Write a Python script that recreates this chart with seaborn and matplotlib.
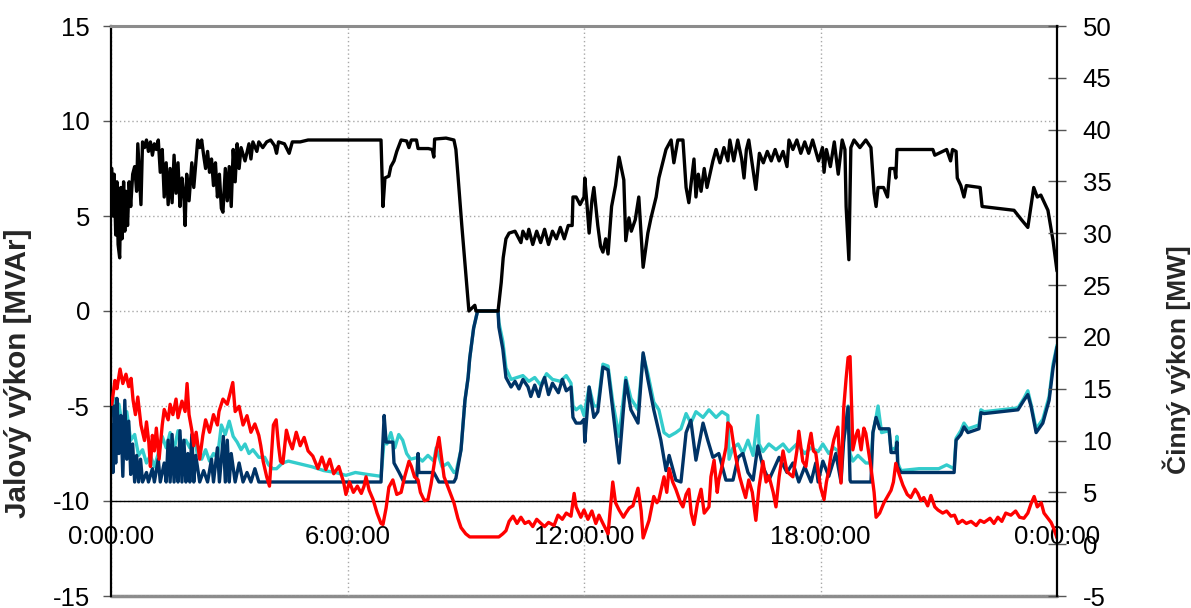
import matplotlib
matplotlib.use("Agg")
import matplotlib.pyplot as plt
import seaborn as sns
import pandas as pd

# ---------------- data (hours, values) ----------------
black_t = [0.02, 0.05, 0.08, 0.12, 0.15, 0.18, 0.22, 0.25, 0.28, 0.32, 0.35, 0.38, 0.42, 0.46, 0.50, 0.55,
           0.60, 0.65, 0.68, 0.76, 0.80, 0.85, 0.90, 0.95, 1.00, 1.05, 1.10, 1.15, 1.20, 1.25, 1.30, 1.35,
           1.40, 1.45, 1.50, 1.55, 1.60, 1.65, 1.70, 1.75, 1.80, 1.85, 1.88, 1.92, 1.98, 2.05, 2.10, 2.16,
           2.20, 2.25, 2.30, 2.35, 2.40, 2.45, 2.50, 2.55, 2.60, 2.65, 2.70, 2.75, 2.80, 2.84, 2.90, 2.95,
           3.00, 3.05, 3.10, 3.15, 3.20, 3.25, 3.30, 3.40, 3.50, 3.55, 3.60, 3.70, 3.75, 3.85, 3.95, 4.05,
           4.15, 4.20, 4.25, 4.40, 4.52, 4.60, 4.80, 5.00, 6.85, 6.90, 6.95, 7.05, 7.10, 7.18, 7.25, 7.36,
           7.50, 7.56, 7.62, 7.75, 7.79, 7.85, 8.05, 8.15, 8.19, 8.21, 8.50, 8.70, 8.75, 8.80, 8.90, 9.00,
           9.08, 9.23, 9.26, 9.82, 9.90, 9.95, 10.02, 10.10, 10.25, 10.40, 10.45, 10.55, 10.60, 10.70, 10.80,
           10.90, 11.00, 11.10, 11.20, 11.30, 11.40, 11.50, 11.60, 11.70, 11.72, 11.80, 11.90, 12.00, 12.02,
           12.08, 12.13, 12.20, 12.25, 12.35, 12.42, 12.48, 12.55, 12.61, 12.70, 12.80, 12.89, 12.95, 13.01,
           13.06, 13.14, 13.20, 13.30, 13.39, 13.50, 13.62, 13.70, 13.83, 13.90, 14.08, 14.21, 14.28, 14.38,
           14.51, 14.59, 14.66, 14.79, 14.84, 14.90, 14.97, 15.05, 15.12, 15.27, 15.35, 15.45, 15.55, 15.65,
           15.70, 15.80, 15.90, 16.00, 16.06, 16.12, 16.18, 16.25, 16.36, 16.45, 16.55, 16.65, 16.75, 16.85,
           16.95, 17.05, 17.15, 17.20, 17.30, 17.40, 17.50, 17.60, 17.70, 17.80, 17.95, 18.05, 18.09, 18.15,
           18.25, 18.35, 18.45, 18.55, 18.62, 18.65, 18.72, 18.77, 18.85, 19.00, 19.15, 19.28, 19.36, 19.41,
           19.46, 19.60, 19.70, 19.76, 19.88, 19.91, 19.94, 20.50, 20.85, 20.90, 21.20, 21.30, 21.35, 21.44,
           21.47, 21.56, 21.64, 21.70, 22.05, 22.10, 22.50, 22.91, 23.10, 23.26, 23.41, 23.50, 23.59, 23.77,
           23.90, 24.00]
black_v = [7.5, 5.0, 7.2, 4.0, 6.8, 3.5, 2.8, 6.5, 3.8, 6.8, 4.2, 6.3, 4.5, 6.8, 5.5, 7.2,
           7.6, 6.3, 8.8, 5.6, 8.9, 8.6, 9.0, 8.4, 8.9, 8.2, 8.8, 8.5, 9.0, 7.3, 8.5, 6.0,
           7.8, 5.6, 7.5, 5.7, 8.2, 6.2, 7.8, 5.5, 7.0, 6.0, 4.5, 7.2, 5.8, 7.8, 6.5, 8.0,
           9.0, 8.6, 9.0, 8.2, 7.5, 8.4, 7.3, 8.0, 6.6, 7.8, 6.0, 7.2, 5.4, 5.2, 7.5, 5.8,
           7.6, 5.5, 8.5, 6.8, 8.8, 7.5, 8.6, 7.9, 8.8, 8.0, 8.9, 8.4, 8.9, 8.6, 8.9, 9.0,
           8.7, 8.3, 8.9, 8.8, 8.3, 8.9, 8.9, 9.0, 9.0, 5.5, 7.0, 7.1, 7.6, 7.9, 8.4, 9.0,
           8.95, 8.6, 9.0, 9.0, 8.55, 8.55, 8.55, 8.5, 8.1, 9.05, 9.1, 9.0, 8.5, 7.2, 4.5, 2.0,
           0.0, 0.3, 0.0, 0.0, 1.5, 2.8, 3.8, 4.1, 4.2, 3.6, 4.2, 3.8, 4.3, 3.5, 4.2,
           3.6, 4.3, 3.5, 4.2, 3.8, 4.4, 3.8, 4.5, 4.5, 6.0, 6.0, 5.6, 6.0, 7.0,
           5.5, 4.1, 5.8, 6.5, 4.5, 3.4, 3.1, 3.8, 3.0, 5.5, 6.6, 8.1, 7.5, 6.9,
           3.7, 4.9, 4.2, 4.8, 6.0, 2.3, 4.1, 4.9, 6.0, 7.0, 8.5, 9.0, 7.8, 9.0,
           9.0, 6.5, 5.7, 8.0, 6.0, 7.2, 6.3, 7.5, 6.5, 7.9, 8.5, 7.8, 8.6, 7.9,
           9.0, 7.9, 9.0, 8.0, 7.0, 8.5, 9.0, 8.0, 6.4, 8.3, 7.8, 8.4, 7.9, 8.5,
           7.9, 8.4, 7.6, 9.0, 8.5, 9.0, 8.3, 8.9, 8.3, 9.0, 7.9, 8.6, 7.3, 8.5,
           7.6, 8.9, 7.2, 9.0, 8.5, 5.5, 2.7, 8.6, 9.0, 8.6, 9.0, 8.6, 6.2, 5.5,
           6.5, 6.5, 6.0, 7.5, 7.5, 7.0, 8.5, 8.5, 8.5, 8.2, 8.5, 7.9, 8.5, 8.4,
           7.0, 6.6, 6.0, 6.6, 6.5, 5.5, 5.4, 5.3, 4.8, 4.4, 6.5, 6.0, 6.1, 5.3,
           3.7, 2.1]

blue_t = [0.02, 0.05, 0.08, 0.12, 0.15, 0.20, 0.25, 0.30, 0.35, 0.40, 0.45, 0.50, 0.55, 0.60, 0.65, 0.70,
          0.75, 0.80, 0.90, 0.95, 1.05, 1.10, 1.20, 1.25, 1.35, 1.40, 1.45, 1.50, 1.55, 1.60, 1.65, 1.70,
          1.75, 1.80, 1.85, 1.90, 1.95, 2.00, 2.05, 2.10, 2.15, 2.25, 2.35, 2.45, 2.55, 2.60, 2.70, 2.75,
          2.85, 2.90, 2.95, 3.00, 3.05, 3.15, 3.25, 3.35, 3.45, 3.55, 3.65, 3.75, 6.85, 6.93, 6.98, 7.15,
          7.18, 7.31, 7.43, 7.75, 7.79, 7.81, 8.19, 8.32, 8.70, 8.75, 8.88, 8.98, 9.06, 9.10, 9.20, 9.30,
          9.82, 9.84, 9.94, 10.02, 10.15, 10.25, 10.35, 10.45, 10.58, 10.65, 10.75, 10.85, 10.91, 11.00,
          11.10, 11.20, 11.35, 11.45, 11.55, 11.67, 11.72, 11.80, 11.92, 12.00, 12.02, 12.13, 12.25, 12.35,
          12.48, 12.61, 12.73, 12.89, 13.06, 13.19, 13.37, 13.50, 13.62, 13.77, 13.95, 14.08, 14.16, 14.33,
          14.46, 14.59, 14.71, 14.84, 15.02, 15.14, 15.27, 15.42, 15.60, 15.78, 15.91, 16.03, 16.16, 16.29,
          16.41, 16.54, 16.69, 16.95, 17.15, 17.30, 17.45, 17.60, 17.76, 17.88, 17.94, 18.06, 18.21, 18.39,
          18.52, 18.59, 18.70, 18.75, 18.77, 19.28, 19.33, 19.41, 19.50, 19.74, 19.79, 19.91, 19.94, 19.96,
          20.04, 21.39, 21.44, 21.56, 21.64, 21.74, 22.02, 22.07, 22.15, 23.01, 23.16, 23.26, 23.34, 23.47,
          23.64, 23.80, 23.90, 24.00]
blue_v = [-6.0, -8.5, -5.0, -8.0, -4.6, -7.5, -5.5, -8.7, -4.7, -7.8, -5.8, -8.6, -7.0, -9.0, -7.6, -9.0,
          -7.8, -9.0, -8.5, -9.0, -8.3, -9.0, -7.8, -9.0, -8.0, -9.0, -6.8, -9.0, -6.5, -9.0, -7.2, -9.0,
          -6.3, -9.0, -6.8, -9.0, -7.5, -9.0, -6.5, -9.0, -7.6, -9.0, -8.4, -9.0, -7.8, -9.0, -7.2, -9.0,
          -6.6, -9.0, -6.8, -9.0, -7.5, -9.0, -8.0, -9.0, -8.5, -9.0, -8.3, -9.0, -9.0, -5.5, -6.9, -6.9,
          -8.0, -8.5, -9.0, -9.0, -7.5, -8.5, -8.5, -9.0, -9.0, -8.8, -7.3, -4.7, -3.5, -2.5, -0.9, 0.0,
          0.0, -0.85, -2.0, -3.5, -4.0, -3.7, -4.1, -3.6, -4.0, -4.5, -3.9, -4.5, -4.0, -3.5,
          -4.4, -3.8, -4.3, -3.6, -4.2, -4.0, -5.6, -5.9, -5.9, -5.7, -6.9, -4.0, -5.6, -5.3,
          -2.95, -3.1, -5.2, -8.0, -3.65, -5.2, -5.9, -2.2, -3.6, -5.2, -6.8, -8.4, -7.6, -8.9,
          -9.0, -6.4, -5.75, -7.85, -5.9, -6.8, -7.7, -7.5, -8.9, -8.9, -7.7, -7.5, -8.5, -8.9,
          -7.1, -8.2, -8.9, -7.7, -8.5, -8.0, -9.0, -8.2, -9.0, -8.0, -9.0, -7.9, -8.7, -7.5,
          -9.0, -6.8, -5.05, -8.9, -9.0, -9.0, -6.4, -5.6, -6.2, -6.2, -7.45, -7.45, -6.9, -8.2,
          -8.5, -8.5, -6.8, -6.5, -6.1, -6.4, -6.2, -5.35, -5.4, -5.2, -4.7, -4.4, -5.0, -6.4,
          -5.9, -4.7, -3.0, -1.9]

cyan_t = [0.02, 0.10, 0.15, 0.20, 0.30, 0.40, 0.50, 0.60, 0.70, 0.80, 0.90, 1.00, 1.10, 1.20, 1.30, 1.40,
          1.50, 1.60, 1.70, 1.80, 1.90, 2.00, 2.10, 2.20, 2.30, 2.40, 2.50, 2.60, 2.70, 2.80, 2.90, 3.00,
          3.10, 3.20, 3.30, 3.40, 3.50, 3.60, 3.75, 3.90, 4.00, 4.10, 4.20, 4.35, 4.50, 4.70, 4.90, 5.10,
          5.40, 5.70, 5.96, 6.20, 6.50, 6.85, 6.93, 7.00, 7.10, 7.20, 7.30, 7.40, 7.50, 7.60, 7.79, 7.90,
          8.04, 8.19, 8.25, 8.40, 8.55, 8.70, 8.75, 8.88, 8.98, 9.06, 9.10, 9.20, 9.30, 9.82, 9.84, 9.94,
          10.02, 10.15, 10.30, 10.45, 10.60, 10.75, 10.90, 11.05, 11.20, 11.40, 11.55, 11.67, 11.72, 11.80,
          11.92, 12.00, 12.13, 12.25, 12.35, 12.48, 12.61, 12.73, 12.89, 13.06, 13.19, 13.37, 13.50, 13.62,
          13.77, 13.90, 14.03, 14.16, 14.33, 14.46, 14.59, 14.71, 14.84, 15.02, 15.17, 15.35, 15.50, 15.65,
          15.68, 15.78, 15.91, 16.03, 16.16, 16.29, 16.41, 16.44, 16.54, 16.69, 16.87, 17.05, 17.20, 17.40,
          17.60, 17.76, 17.94, 18.06, 18.21, 18.34, 18.52, 18.59, 18.70, 18.75, 18.82, 18.95, 19.15, 19.28,
          19.33, 19.41, 19.46, 19.55, 19.74, 19.79, 19.91, 19.94, 19.96, 20.04, 20.50, 21.00, 21.20, 21.39,
          21.44, 21.56, 21.64, 21.74, 22.02, 22.07, 22.15, 23.01, 23.16, 23.26, 23.34, 23.47, 23.64, 23.80,
          23.90, 24.00]
cyan_v = [-5.5, -4.6, -6.0, -4.9, -6.2, -5.3, -6.8, -6.5, -7.6, -7.3, -8.0, -7.6, -8.2, -7.5, -6.6, -7.2,
          -6.4, -7.3, -6.3, -7.0, -6.8, -7.2, -6.6, -7.6, -7.8, -7.3, -7.9, -7.5, -7.7, -6.0, -6.5, -5.8,
          -6.6, -6.9, -7.3, -7.0, -7.5, -7.3, -7.7, -7.7, -8.1, -8.3, -8.3, -8.0, -7.9, -8.0, -8.1, -8.2,
          -8.4, -8.5, -8.65, -8.5, -8.6, -8.7, -6.8, -7.0, -6.4, -7.2, -6.5, -6.8, -7.5, -7.8, -7.7, -7.9,
          -7.6, -7.9, -7.2, -8.2, -8.0, -8.5, -8.5, -7.3, -4.7, -3.5, -2.5, -0.9, 0.0, 0.0, -0.6, -1.6,
          -3.0, -3.6, -3.5, -3.4, -3.7, -3.5, -3.9, -3.3, -3.6, -3.7, -3.4, -3.8, -5.0, -5.2,
          -5.0, -5.5, -4.0, -5.0, -5.0, -2.8, -2.9, -4.8, -6.6, -3.5, -4.6, -5.2, -2.3, -3.3,
          -4.8, -5.2, -6.4, -6.6, -6.4, -6.2, -5.4, -5.9, -5.3, -5.6, -5.2, -5.6, -5.3, -5.5,
          -7.8, -7.2, -7.0, -7.5, -6.8, -7.6, -5.5, -7.0, -7.4, -7.0, -7.3, -7.0, -7.4, -7.0,
          -7.5, -7.2, -7.4, -7.0, -7.5, -7.2, -7.5, -6.8, -5.0, -7.5, -7.9, -7.6, -8.0, -8.0,
          -6.4, -5.6, -5.0, -6.4, -6.3, -7.3, -7.2, -6.6, -8.0, -8.4, -8.3, -8.3, -8.1, -8.3,
          -6.7, -6.3, -5.9, -6.2, -6.0, -5.2, -5.3, -5.1, -4.6, -4.2, -4.9, -6.2, -5.7, -4.5,
          -2.8, -1.8]

red_t = [0.02, 0.10, 0.15, 0.23, 0.30, 0.38, 0.45, 0.51, 0.56, 0.62, 0.68, 0.76, 0.85, 0.90, 0.96, 1.00,
         1.05, 1.10, 1.15, 1.22, 1.30, 1.35, 1.45, 1.50, 1.57, 1.65, 1.70, 1.80, 1.88, 1.93, 1.98, 2.05,
         2.10, 2.16, 2.25, 2.33, 2.40, 2.50, 2.60, 2.70, 2.74, 2.84, 2.95, 3.09, 3.15, 3.25, 3.35, 3.45,
         3.55, 3.65, 3.75, 3.80, 3.86, 3.95, 4.02, 4.06, 4.12, 4.19, 4.25, 4.30, 4.36, 4.45, 4.52, 4.60,
         4.70, 4.80, 4.90, 5.00, 5.12, 5.25, 5.35, 5.45, 5.55, 5.65, 5.78, 5.90, 5.96, 6.05, 6.15, 6.25,
         6.35, 6.42, 6.47, 6.55, 6.65, 6.75, 6.85, 6.90, 6.98, 7.05, 7.15, 7.25, 7.36, 7.45, 7.56, 7.62,
         7.70, 7.79, 7.85, 7.95, 8.04, 8.12, 8.19, 8.25, 8.32, 8.38, 8.45, 8.55, 8.70, 8.80, 8.88, 9.00,
         9.10, 9.50, 9.84, 9.94, 10.02, 10.10, 10.20, 10.30, 10.40, 10.50, 10.60, 10.70, 10.80, 10.91,
         11.00, 11.10, 11.24, 11.34, 11.45, 11.55, 11.67, 11.75, 11.80, 11.92, 12.00, 12.10, 12.20, 12.30,
         12.38, 12.48, 12.56, 12.61, 12.73, 12.80, 12.89, 13.00, 13.06, 13.15, 13.24, 13.37, 13.45, 13.50,
         13.58, 13.65, 13.77, 13.85, 13.90, 14.03, 14.10, 14.16, 14.25, 14.33, 14.45, 14.51, 14.59, 14.66,
         14.72, 14.79, 14.88, 14.97, 15.05, 15.17, 15.22, 15.30, 15.38, 15.42, 15.50, 15.60, 15.65, 15.73,
         15.80, 15.85, 15.95, 16.03, 16.10, 16.18, 16.27, 16.36, 16.44, 16.54, 16.62, 16.69, 16.80, 16.87,
         16.95, 17.05, 17.15, 17.30, 17.40, 17.45, 17.55, 17.63, 17.70, 17.76, 17.82, 17.88, 17.94, 18.00,
         18.09, 18.15, 18.21, 18.28, 18.34, 18.44, 18.52, 18.59, 18.65, 18.70, 18.75, 18.80, 18.82, 18.90,
         18.95, 19.03, 19.10, 19.15, 19.28, 19.36, 19.41, 19.50, 19.61, 19.70, 19.79, 19.85, 19.91, 20.00,
         20.09, 20.20, 20.29, 20.40, 20.47, 20.55, 20.62, 20.72, 20.80, 20.90, 20.98, 21.10, 21.20, 21.31,
         21.40, 21.49, 21.60, 21.70, 21.82, 21.95, 22.05, 22.15, 22.30, 22.40, 22.50, 22.60, 22.70, 22.83,
         22.95, 23.05, 23.16, 23.26, 23.34, 23.42, 23.50, 23.60, 23.67, 23.77, 23.85, 23.92, 24.00]
red_v = [13.5, 15.8, 15.0, 16.9, 15.5, 16.4, 15.2, 16.0, 13.9, 12.5, 14.2, 11.5, 10.0, 11.8, 9.8, 7.5,
         10.5, 9.0, 11.2, 8.2, 11.5, 13.0, 12.0, 13.5, 12.5, 14.0, 12.2, 13.8, 12.8, 15.5, 12.5, 11.0,
         9.5, 10.8, 8.2, 10.5, 12.0, 10.8, 12.5, 11.5, 12.8, 14.0, 13.5, 15.6, 12.8, 13.3, 11.5, 12.4,
         10.8, 11.6, 10.5, 9.5, 8.0, 6.5, 5.6, 8.0, 11.5, 12.0, 9.5, 8.0, 7.8, 11.0, 10.0, 9.2,
         10.8, 9.5, 10.3, 9.0, 8.5, 7.3, 8.4, 7.2, 8.2, 6.8, 7.5, 6.0, 4.8, 6.0, 5.0, 5.6,
         4.9, 5.6, 6.5, 5.2, 4.3, 3.0, 2.0, 1.9, 3.5, 5.5, 6.2, 4.8, 5.0, 6.5, 8.0, 7.5,
         6.5, 6.2, 5.0, 4.2, 4.3, 5.8, 7.5, 9.0, 10.3, 8.5, 6.5, 5.5, 4.0, 2.5, 1.6, 1.0,
         0.7, 0.7, 0.7, 1.0, 1.3, 2.2, 2.7, 2.0, 2.6, 2.0, 2.2, 1.7, 2.4, 2.0,
         1.7, 2.1, 1.8, 2.8, 2.4, 3.0, 2.7, 4.9, 3.6, 2.6, 3.3, 2.4, 3.2, 2.0,
         2.8, 2.0, 1.4, 1.0, 6.0, 4.0, 3.3, 2.6, 3.0, 3.5, 3.7, 5.4, 3.2, 0.6,
         1.5, 2.3, 4.6, 4.0, 4.3, 6.5, 5.0, 7.3, 6.0, 5.3, 4.0, 3.6, 4.8, 5.3,
         3.0, 1.9, 4.0, 5.3, 3.0, 3.6, 6.5, 8.1, 5.0, 6.2, 7.5, 9.3, 11.7, 11.3,
         9.5, 8.4, 6.5, 5.4, 4.5, 6.2, 5.0, 2.3, 5.5, 8.0, 6.0, 6.6, 5.0, 3.6,
         6.5, 9.0, 7.0, 6.5, 9.0, 10.9, 8.0, 7.5, 9.5, 10.7, 9.0, 8.8, 7.1, 5.5,
         4.3, 6.0, 7.1, 9.0, 10.1, 11.3, 5.9, 13.2, 16.0, 18.0, 18.1, 12.0, 9.1, 10.5,
         11.0, 9.1, 11.2, 10.7, 7.4, 5.0, 2.6, 3.0, 4.0, 4.6, 5.2, 6.0, 7.8, 6.7,
         5.7, 4.8, 4.5, 5.3, 4.9, 4.2, 4.5, 3.7, 4.7, 3.6, 3.3, 3.0, 3.2, 2.7,
         2.8, 2.0, 2.3, 2.0, 2.2, 1.8, 2.3, 2.1, 2.5, 2.0, 2.6, 2.2, 3.0, 2.8,
         3.2, 2.6, 2.5, 3.0, 3.9, 4.6, 3.6, 4.0, 3.0, 2.5, 2.1, 1.5, 0.6]

x_ticks = [0, 6, 12, 18, 24]
x_tick_labels = ["0:00:00", "6:00:00", "12:00:00", "18:00:00", "0:00:00"]
left_ticks = [-15, -10, -5, 0, 5, 10, 15]
right_ticks = [-5, 0, 5, 10, 15, 20, 25, 30, 35, 40, 45, 50]
left_label = "Jalový výkon [MVAr]"
right_label = "Činný výkon [MW]"

# ---------------- style ----------------
sns.set_theme(style="white")
plt.rcParams['font.family'] = ['Liberation Sans', 'DejaVu Sans']

W, H = 1191, 608
fig = plt.figure(figsize=(W / 100, H / 100), dpi=100)
ax = fig.add_axes([111 / W, 1 - 596 / H, 946 / W, 570 / H])
ax.set_facecolor("white")
ax2 = ax.twinx()

df_black = pd.DataFrame({"t": black_t, "v": black_v})
df_blue = pd.DataFrame({"t": blue_t, "v": blue_v})
df_cyan = pd.DataFrame({"t": cyan_t, "v": cyan_v})
df_red = pd.DataFrame({"t": red_t, "v": red_v})

lw = 2.4
sns.lineplot(data=df_cyan, x="t", y="v", ax=ax, color="#33CCCC", lw=lw, estimator=None, sort=False, errorbar=None)
sns.lineplot(data=df_blue, x="t", y="v", ax=ax, color="#003366", lw=lw, estimator=None, sort=False, errorbar=None)
sns.lineplot(data=df_black, x="t", y="v", ax=ax, color="black", lw=lw, estimator=None, sort=False, errorbar=None)
sns.lineplot(data=df_red, x="t", y="v", ax=ax2, color="#FF0000", lw=lw, estimator=None, sort=False, errorbar=None)

ax.set_xlim(0, 24)
ax.set_ylim(-15, 15)
ax2.set_ylim(-5, 50)

ax.set_xticks(x_ticks)
ax.set_xticklabels(x_tick_labels)
ax.set_yticks(left_ticks)
ax.set_yticklabels([str(v) for v in left_ticks])
ax2.set_yticks(right_ticks)
ax2.set_yticklabels([str(v) for v in right_ticks])

# grid
ax.grid(True, which="major", axis="both", linestyle=(0, (1, 2)), color="#a8a8a8", lw=1.0)
ax.set_axisbelow(True)

# spines
ax.spines["bottom"].set_position(("data", -10))
ax.spines["bottom"].set_color("black")
ax.spines["bottom"].set_linewidth(1.0)
ax.spines["left"].set_color("black")
ax.spines["left"].set_linewidth(1.6)
ax.spines["top"].set_color("#8c8c8c")
ax.spines["top"].set_linewidth(2.2)
ax.spines["right"].set_visible(False)
for s in ["left", "top", "bottom"]:
    ax2.spines[s].set_visible(False)
ax2.spines["right"].set_color("black")
ax2.spines["right"].set_linewidth(1.6)
ax.axhline(-15, color="#8c8c8c", lw=2.5, clip_on=False, zorder=0.5)

ax.tick_params(axis="x", length=0, pad=17, labelsize=18.5, colors="black")
ax.tick_params(axis="y", direction="out", length=6, width=1, color="#555555", pad=9, labelsize=18.5, labelcolor="black", left=True)
ax2.tick_params(axis="y", direction="inout", length=13, width=1, color="#555555", pad=12, labelsize=18.5, labelcolor="black", right=True)

ax.set_xlabel("")
ax.set_ylabel(left_label, fontsize=21.3, fontweight="bold")
ax.yaxis.set_label_coords(-0.083, 0.39)
ax2.set_ylabel(right_label, fontsize=19, fontweight="bold")
ax2.yaxis.set_label_coords(1.112, 0.415)

fig.savefig("out.png", dpi=100)
